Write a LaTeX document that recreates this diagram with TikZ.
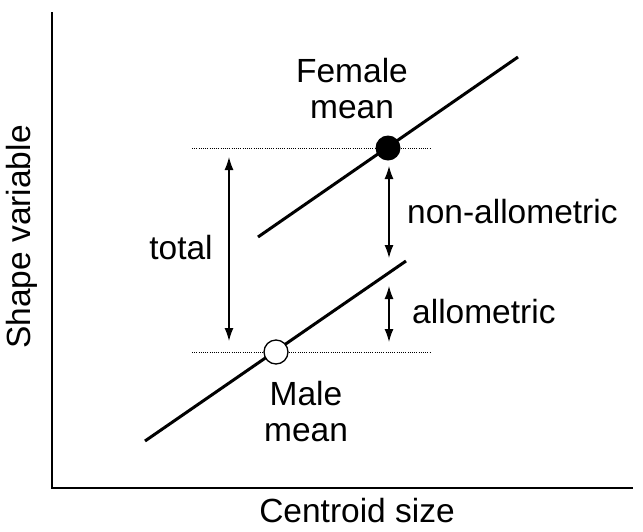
\documentclass[tikz,border=0pt]{standalone}
\usepackage{fontspec}
\setmainfont{Liberation Sans}
\usepackage{xcolor}
\usetikzlibrary{arrows.meta}
\definecolor{trazo}{RGB}{0,0,0}

\begin{document}
\begin{tikzpicture}[x=1pt, y=-1pt,
    lbl/.style={font=\fontsize{33.5}{36}\selectfont, align=center, inner sep=0pt},
    flecha/.style={{Latex[length=13pt,width=9pt]}-{Latex[length=13pt,width=9pt]}, line width=1.3pt, trazo},
    recta/.style={line width=3pt, trazo},
    nivel/.style={line width=1pt, dash pattern=on 1pt off 1.2pt}]
        \useasboundingbox (0,0) rectangle (643,531);
        % ejes
        \coordinate (ytop) at (52,12);
        \coordinate (orig) at (52,488);
        \coordinate (xend) at (633,488);
        \draw[line width=1.5pt] (ytop) -- (orig) -- (xend);
        \node[lbl, rotate=90] (ylab) at (22,237) {Shape variable};
        \node[lbl, anchor=base] (xlab) at (357,522) {Centroid size};
        % niveles
        \coordinate (fl) at (192,148);
        \coordinate (fr) at (430,148);
        \coordinate (ml) at (192,352);
        \coordinate (mr) at (430,352);
        \draw[nivel] (fl) -- (fr);
        \draw[nivel] (ml) -- (mr);
        % rectas
        \coordinate (fa) at (258,237);
        \coordinate (fb) at (518,57);
        \coordinate (ma) at (145,441);
        \coordinate (mb) at (406,261);
        \draw[recta] (fa) -- (fb);
        \draw[recta] (ma) -- (mb);
        % medias
        \node[circle, fill=black, minimum size=25pt, inner sep=0pt] (fmean) at (388,148) {};
        \node[circle, draw, fill=white, line width=1.3pt, minimum size=24pt, inner sep=0pt] (mmean) at (276,352) {};
        \node[lbl] (flab) at (352,89) {Female\\mean};
        \node[lbl] (mlab) at (306,412) {Male\\mean};
        % diferencias
        \coordinate (t1) at (229,157);
        \coordinate (t2) at (229,341);
        \coordinate (n1) at (389,166);
        \coordinate (n2) at (389,258);
        \coordinate (a1) at (389,286);
        \coordinate (a2) at (389,342);
        \draw[flecha] (t1) -- (t2);
        \draw[flecha] (n1) -- (n2);
        \draw[flecha] (a1) -- (a2);
        \node[lbl] (tlab) at (181,248) {total};
        \node[lbl, anchor=base west] (nlab) at (407,223) {non-allometric};
        \node[lbl, anchor=base west] (alab) at (412,323) {allometric};
      \end{tikzpicture}
\end{document}
